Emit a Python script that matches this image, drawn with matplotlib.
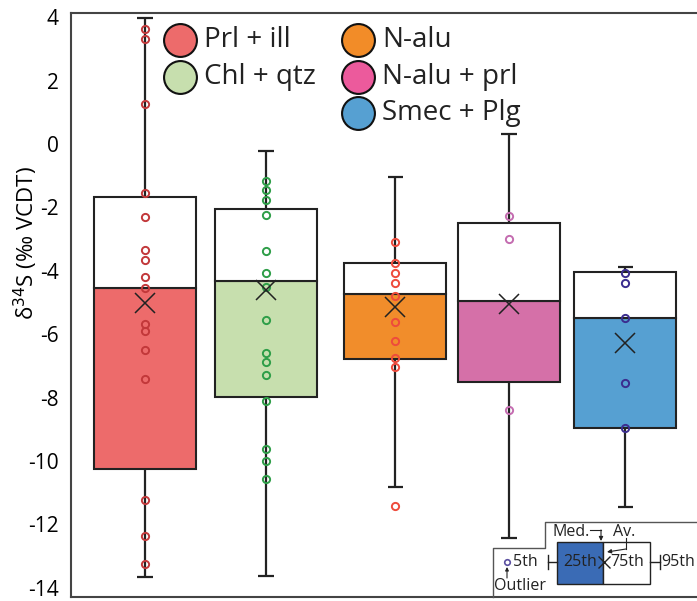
import matplotlib
matplotlib.use("Agg")
import matplotlib.pyplot as plt
from matplotlib.patches import Rectangle

plt.rcParams['font.family'] = ['Open Sans', 'DejaVu Sans']
plt.rcParams['axes.unicode_minus'] = False

# box statistics
labels = ["Prl + ill", "Chl + qtz", "N-alu", "N-alu + prl", "Smec + Plg"]
positions = [1.0, 2.0, 3.07, 4.01, 4.97]
q1 = [-10.25, -7.98, -6.78, -7.50, -8.96]
med = [-4.55, -4.32, -4.73, -4.94, -5.49]
q3 = [-1.67, -2.05, -3.75, -2.49, -4.04]
whis_lo = [-13.66, -13.63, -10.82, -12.43, -11.45]
whis_hi = [3.97, -0.22, -1.04, 0.32, -3.88]
means = [-5.02, -4.60, -5.14, -5.06, -6.28]

# individual samples
pts_prl_ill = [3.62, 3.31, 1.26, -1.55, -2.30, -3.34, -3.66, -4.19, -4.54,
               -5.68, -5.90, -6.50, -7.41, -11.23, -12.37, -13.25]
pts_chl_qtz = [-1.17, -1.46, -1.77, -2.24, -3.38, -4.07, -4.51, -5.55,
               -6.58, -6.89, -7.28, -8.10, -9.62, -10.00, -10.57]
pts_nalu = [-3.09, -3.75, -4.07, -4.38, -4.79, -5.61, -6.21, -6.75, -7.03, -11.42]
pts_nalu_prl = [-2.27, -3.00, -8.39]
pts_smec_plg = [-4.07, -4.38, -5.49, -7.54, -8.96]
points = [pts_prl_ill, pts_chl_qtz, pts_nalu, pts_nalu_prl, pts_smec_plg]

box_colors = ["#ED6B6B", "#C7DFAE", "#F18D2B", "#D570A8", "#56A0D2"]
legend_colors = ["#ED6B6B", "#C7DFAE", "#F28C28", "#EC5A9C", "#56A0D2"]
point_colors = ["#C2383A", "#2E9E48", "#EE4B3C", "#C46CB0", "#3B2D8F"]

W, H = 697, 601
fig = plt.figure(figsize=(W / 100, H / 100), dpi=100)
ax = fig.add_axes([71 / W, 4 / H, (W - 71) / W, 584 / H])

box_w = 0.843
cap_w = 0.13
for i, x in enumerate(positions):
    ax.vlines(x, q3[i], whis_hi[i], color="#222222", lw=1.6, zorder=1)
    ax.vlines(x, whis_lo[i], q1[i], color="#222222", lw=1.6, zorder=1)
    ax.hlines([whis_lo[i], whis_hi[i]], x - cap_w / 2, x + cap_w / 2,
              color="#222222", lw=1.6, zorder=1)
    ax.bar(x, med[i] - q1[i], bottom=q1[i], width=box_w, color=box_colors[i],
           edgecolor="#222222", linewidth=1.5, zorder=2)
    ax.bar(x, q3[i] - med[i], bottom=med[i], width=box_w, color="white",
           edgecolor="#222222", linewidth=1.5, zorder=2)
    ax.plot([x] * len(points[i]), points[i], 'o', ms=5.2, mfc='none',
            mec=point_colors[i], mew=1.4, zorder=4)
    ax.plot(x, means[i], 'x', ms=15, mew=1.1, color="#222222", zorder=5)

ax.set_xlim(0.388, 5.562)
ax.set_ylim(-14.29, 4.13)
ax.set_yticks(range(-14, 5, 2))
ax.set_xticks([])
ax.tick_params(axis='y', length=0, labelsize=15, pad=9)
ax.set_ylabel("δ$^{34}$S (‰ VCDT)", fontsize=16)
ax.yaxis.set_label_coords(-0.05, 0.606)
ax.spines['right'].set_visible(False)
for s in ['left', 'top', 'bottom']:
    ax.spines[s].set_color("#444444")
    ax.spines[s].set_linewidth(1.5)


def to_ax(px, py):
    return (px - 71) / 626, (597 - py) / 584


# legend, two columns of big circles
legend_xy = [(180, 40), (180, 77), (358, 40), (358, 77), (358, 113)]
for (px, py), lab, c in zip(legend_xy, labels, legend_colors):
    ax_x, ax_y = to_ax(px, py)
    ax.scatter(ax_x, ax_y, s=560, color=c, edgecolor="#111111", linewidth=1.5,
               transform=ax.transAxes, zorder=6, clip_on=False)
    tx, ty = to_ax(px + 24, py)
    ax.text(tx, ty, lab, transform=ax.transAxes, fontsize=20, va='center',
            ha='left', color="#222222")

# box key in the lower right corner (pixel-like coordinates)
key = fig.add_axes([480 / W, 0, 217 / W, 86 / H])
key.set_xlim(480, 697)
key.set_ylim(601, 515)
key.axis('off')
key.plot([493, 493, 545, 545, 697], [597, 548, 548, 522, 522],
         color="#555555", lw=1.0)
key.add_patch(Rectangle((557, 542), 46, 42, facecolor="#3A6BB5",
                        edgecolor="#222222", lw=1.0))
key.add_patch(Rectangle((603, 542), 47, 42, facecolor="white",
                        edgecolor="#222222", lw=1.0))
key.plot([548, 557], [562, 562], color="#222222", lw=1.0)
key.plot([548, 548], [555, 569], color="#222222", lw=1.0)
key.plot([650, 660], [562, 562], color="#222222", lw=1.0)
key.plot([660, 660], [555, 569], color="#222222", lw=1.0)
key.plot(604, 562, 'x', ms=9, mew=1.0, color="#222222")
key.plot(507, 562, 'o', ms=4, mfc='none', mec="#5A4FA0", mew=1.2)
kfs = 11.5
key.text(513, 562, "5th", fontsize=kfs, va='center', ha='left', color="#222222")
key.text(580, 562, "25th", fontsize=kfs, va='center', ha='center', color="#222222")
key.text(627, 562, "75th", fontsize=kfs, va='center', ha='center', color="#222222")
key.text(661, 562, "95th", fontsize=kfs, va='center', ha='left', color="#222222")
key.text(552, 532, "Med.", fontsize=kfs, va='center', ha='left', color="#222222")
key.text(613, 532, "Av.", fontsize=kfs, va='center', ha='left', color="#222222")
key.text(494, 586, "Outlier", fontsize=kfs, va='center', ha='left', color="#222222")
key.plot([590, 601], [530, 530], color="#222222", lw=0.8)
key.annotate("", xy=(601, 541), xytext=(601, 530),
             arrowprops=dict(arrowstyle="-|>", lw=0.8, color="#222222",
                             mutation_scale=6, shrinkA=0, shrinkB=0))
key.plot([626, 626], [538, 549], color="#222222", lw=0.8)
key.annotate("", xy=(607, 552), xytext=(626, 549),
             arrowprops=dict(arrowstyle="-|>", lw=0.8, color="#222222",
                             mutation_scale=6, shrinkA=0, shrinkB=0))
key.annotate("", xy=(507, 567), xytext=(507, 578),
             arrowprops=dict(arrowstyle="-|>", lw=0.8, color="#222222",
                             mutation_scale=5, shrinkA=0, shrinkB=0))

fig.savefig("out.png", dpi=100)
